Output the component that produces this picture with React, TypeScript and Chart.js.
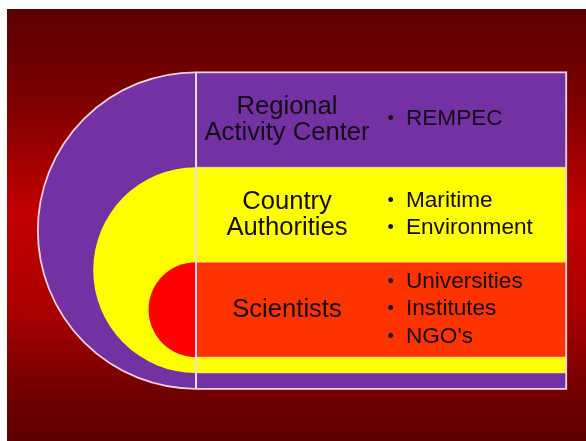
import React, { useEffect, useRef } from "react";
import { Chart, registerables } from "chart.js";

Chart.register(...registerables);

// ---- Diagram data (nested layers, outermost first) ----
const layerTitles: string[][] = [
  ["Regional", "Activity Center"],
  ["Country", "Authorities"],
  ["Scientists"],
];
const layerItems: string[][] = [
  ["REMPEC"],
  ["Maritime", "Environment"],
  ["Universities", "Institutes", "NGO's"],
];
// vertical extent of each nested layer (diagram units)
const layerLow: number[] = [0, 1, 2];
const layerHigh: number[] = [20, 14, 8];
// horizontal extent of the panel part (diagram units)
const panelStart = 0;
const panelEnd = 23.4;

const panelColors = ["#7331a3", "#ffff00", "#ff3300"];
const capColors = ["#7331a3", "#ffff00", "#ff0000"];

const layout = {
  titleX: 5.75,
  bulletX: 12.3,
  itemX: 13.27,
  titleSize: 25.6,
  itemSize: 22.6,
  titleLine: 26,
  itemLine: 27.5,
  font: "'Liberation Sans', Arial, sans-serif",
};

const diagramPlugin = {
  id: "nestedDiagram",
  beforeDraw(chart: any) {
    const { ctx, width, height } = chart;
    const g = ctx.createLinearGradient(0, 0, 0, height);
    g.addColorStop(0, "#5c0000");
    g.addColorStop(0.2, "#7a0000");
    g.addColorStop(0.47, "#c20000");
    g.addColorStop(0.7, "#aa0000");
    g.addColorStop(0.88, "#740000");
    g.addColorStop(1, "#5e0000");
    ctx.save();
    ctx.fillStyle = g;
    ctx.fillRect(0, 0, width, height);
    ctx.restore();
  },
  afterDraw(chart: any) {
    const { ctx } = chart;
    const xs = chart.scales.x;
    const ys = chart.scales.y;
    const x0 = xs.getPixelForValue(panelStart);
    const x1 = xs.getPixelForValue(panelEnd);
    ctx.save();

    const n = layerLow.length;
    for (let i = 0; i < n; i++) {
      const yTop = ys.getPixelForValue(layerHigh[i]);
      const yBot = ys.getPixelForValue(layerLow[i]);
      const half = (layerHigh[i] - layerLow[i]) / 2;
      const rx = x0 - xs.getPixelForValue(panelStart - half);
      const ry = (yBot - yTop) / 2;
      const cy = (yTop + yBot) / 2;
      // half disc
      ctx.beginPath();
      ctx.moveTo(x0, yBot);
      ctx.ellipse(x0, cy, rx, ry, 0, Math.PI / 2, (3 * Math.PI) / 2, false);
      ctx.closePath();
      ctx.fillStyle = capColors[i];
      ctx.fill();
      // panel
      ctx.fillStyle = panelColors[i];
      ctx.fillRect(x0, yTop, x1 - x0, yBot - yTop);
      ctx.lineWidth = 1;
      ctx.strokeStyle = "rgba(255,225,225,0.55)";
      ctx.strokeRect(x0, yTop, x1 - x0, yBot - yTop);
    }

    // outer outline
    {
      const yTop = ys.getPixelForValue(layerHigh[0]);
      const yBot = ys.getPixelForValue(layerLow[0]);
      const half = (layerHigh[0] - layerLow[0]) / 2;
      const rx = x0 - xs.getPixelForValue(panelStart - half);
      const ry = (yBot - yTop) / 2;
      const cy = (yTop + yBot) / 2;
      ctx.beginPath();
      ctx.moveTo(x1, yTop);
      ctx.lineTo(x0, yTop);
      ctx.ellipse(x0, cy, rx, ry, 0, (3 * Math.PI) / 2, Math.PI / 2, true);
      ctx.lineTo(x1, yBot);
      ctx.closePath();
      ctx.lineWidth = 1.8;
      ctx.strokeStyle = "#f2d0dc";
      ctx.stroke();
      // divider
      ctx.beginPath();
      ctx.moveTo(x0, yTop);
      ctx.lineTo(x0, yBot);
      ctx.lineWidth = 2;
      ctx.strokeStyle = "#eadcf0";
      ctx.stroke();
    }

    // texts
    ctx.fillStyle = "#120e16";
    ctx.textBaseline = "alphabetic";
    for (let i = 0; i < n; i++) {
      const top = ys.getPixelForValue(layerHigh[i]);
      const bot = ys.getPixelForValue(i + 1 < n ? layerHigh[i + 1] : layerLow[i]);
      const mid = (top + bot) / 2;

      // title
      const tl = layerTitles[i];
      ctx.font = `${layout.titleSize}px ${layout.font}`;
      ctx.textAlign = "center";
      const capT = layout.titleSize * 0.716;
      tl.forEach((line, k) => {
        const y = mid + capT / 2 + (k - (tl.length - 1) / 2) * layout.titleLine - 1.5;
        ctx.fillText(line, xs.getPixelForValue(layout.titleX), y);
      });

      // bullet items
      const it = layerItems[i];
      const capI = layout.itemSize * 0.716;
      it.forEach((line, k) => {
        const y = mid + capI / 2 + (k - (it.length - 1) / 2) * layout.itemLine - 2.5;
        ctx.font = `${layout.itemSize}px ${layout.font}`;
        ctx.textAlign = "left";
        ctx.fillText(line, xs.getPixelForValue(layout.itemX), y);
        ctx.textAlign = "center";
        ctx.font = `${layout.itemSize * 0.8}px ${layout.font}`;
        ctx.fillText("\u2022", xs.getPixelForValue(layout.bulletX), y - 1);
      });
    }
    ctx.restore();
  },
};

export default function App() {
  const ref = useRef<HTMLCanvasElement>(null);
  useEffect(() => {
    if (!ref.current) return;
    const chart = new Chart(ref.current, {
      type: "scatter",
      data: {
        datasets: [
          {
            data: layerHigh.map((h, i) => ({ x: panelStart, y: (h + layerLow[i]) / 2 })),
            pointRadius: 0,
            showLine: false,
          },
        ],
      },
      options: {
        animation: false,
        responsive: true,
        maintainAspectRatio: false,
        layout: { padding: 0 },
        events: [],
        plugins: { legend: { display: false }, tooltip: { enabled: false } },
        scales: {
          x: { type: "linear", min: -11.95, max: 24.65, display: false },
          y: { type: "linear", min: -3.3, max: 24, display: false },
        },
      },
      plugins: [diagramPlugin],
    });
    return () => chart.destroy();
  }, []);
  return (
    <div style={{ position: "fixed", left: 7, top: 9, width: 579, height: 432 }}>
      <canvas ref={ref} />
    </div>
  );
}
